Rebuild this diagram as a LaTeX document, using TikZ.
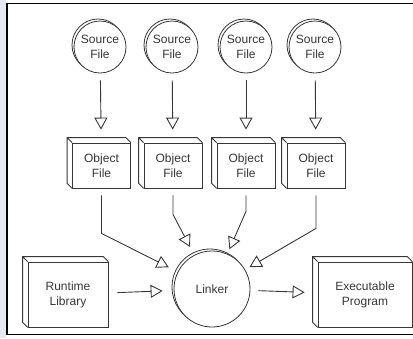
\documentclass[tikz,border=0pt]{standalone}
\usepackage{fontspec}
\setmainfont{Liberation Sans}
\usetikzlibrary{arrows.meta,shadows}
\definecolor{strip}{RGB}{232,232,244}
\definecolor{ink}{RGB}{55,55,55}

\begin{document}
\begin{tikzpicture}[x=1pt, y=-1pt,
    font=\fontsize{12}{15}\selectfont,
    every node/.style={text=ink, align=center},
    source/.style ={circle, draw=ink, fill=white, line width=0.8pt, minimum size=52pt, inner sep=0pt,
      copy shadow={shadow xshift=-2pt, shadow yshift=2pt, draw=ink, fill=white}},
    linker/.style ={source, minimum size=76pt},
    objbox/.style ={rectangle, draw=ink, fill=white, line width=0.8pt, minimum width=58pt, minimum height=45pt, inner sep=0pt},
    bigbox/.style ={objbox, minimum height=65pt},
    flow/.style ={draw=ink, line width=0.9pt, -{Triangle[open, length=12pt, width=13pt]}}]
   % page, strip and frame
   \useasboundingbox (0,0) rectangle (413,338);
   \fill[strip] (0,0) rectangle (6,338);
   \draw[line width=1.6pt] (413,334.5) -- (7,334.5) -- (7,3.5) -- (413,3.5);
   % source files
   \node[source] (s1) at (100,47)  {Source\\File};
   \node[source] (s2) at (172,47)  {Source\\File};
   \node[source] (s3) at (246,47)  {Source\\File};
   \node[source] (s4) at (315,47)  {Source\\File};
   % object files
   \node[objbox] (o1) at (101.5,165.5) {Object\\File};
   \node[objbox] (o2) at (173,165.5)   {Object\\File};
   \node[objbox] (o3) at (246,165.5)   {Object\\File};
   \node[objbox] (o4) at (316,165.5)   {Object\\File};
   % linker and the rest
   \node[linker] (lk) at (212,289) {Linker};
   \node[bigbox, minimum width=80pt] (rt) at (68,294.5)  {Runtime\\Library};
   \node[bigbox, minimum width=94pt] (ex) at (365,294.5) {Executable\\Program};
   % 3d faces of the boxes
   \foreach \b in {o1,o2,o3,o4,rt,ex}
     \draw[ink, line width=0.8pt] (\b.north east) -- ++(-5,-5) -| ([shift={(-5,-5)}]\b.south west) -- (\b.south west)
       (\b.north west) -- ++(-5,-5);
   % arrows
   \foreach \i in {1,...,4}
     \draw[flow, shorten <=7pt, shorten >=13pt] (s\i) -- (o\i);
   \draw[flow, shorten <=7pt, shorten >=10pt] (o1.south) -- ++(0,45) -- (lk);
   \draw[flow, shorten <=7pt, shorten >=9pt] (o2.south) -- ++(0,26) -- (lk);
   \draw[flow, shorten <=7pt, shorten >=5pt] (o3.south) -- ++(0,23) -- (lk);
   \draw[flow, shorten <=7pt, shorten >=5pt] (o4.south) -- ++(0,40) -- (lk);
   \draw[flow, shorten <=9pt, shorten >=11pt] (rt) -- (lk);
   \draw[flow, shorten <=8pt, shorten >=13pt] (lk) -- (ex);
\end{tikzpicture}
\end{document}
